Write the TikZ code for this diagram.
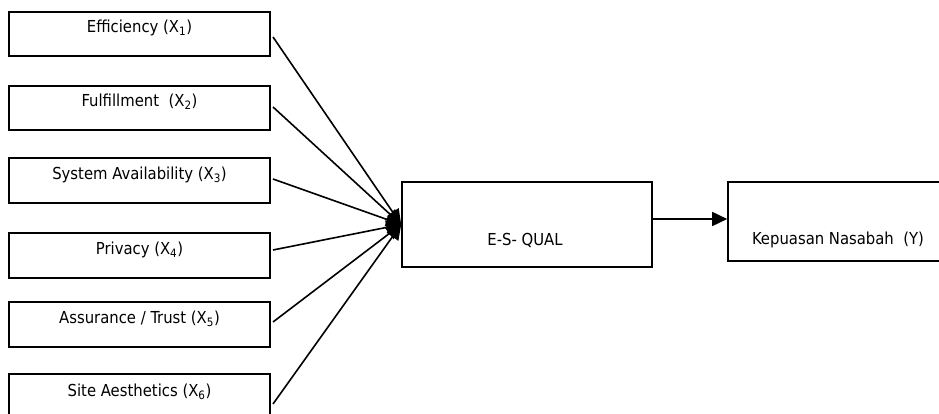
\documentclass[tikz,border=0pt]{standalone}
\usepackage{fontspec}
\setmainfont{DejaVu Sans Condensed}
\usetikzlibrary{arrows.meta}
\begin{document}
\begin{tikzpicture}[x=1pt,y=1pt,
  box/.style={draw=black,line width=1.6pt,rectangle,inner sep=0pt},
  lbl/.style={inner sep=0pt,font=\fontsize{16.5}{19}\selectfont},
  arr/.style={line width=1.6pt,-{Triangle[length=15pt,width=14pt]}}]
\useasboundingbox (0,0) rectangle (939,-414);
\clip (0,0) rectangle (939,-414);
\fill[white] (0,0) rectangle (939,-414);
% input boxes
\node[box,minimum width=261pt,minimum height=44pt] (x1) at (139.5,-34) {};
\node[box,minimum width=261pt,minimum height=44pt] (x2) at (139.5,-108) {};
\node[box,minimum width=261pt,minimum height=45pt] (x3) at (139.5,-180.5) {};
\node[box,minimum width=261pt,minimum height=45pt] (x4) at (139.5,-255.5) {};
\node[box,minimum width=261pt,minimum height=45pt] (x5) at (139.5,-324.5) {};
\node[box,minimum width=261pt,minimum height=45pt] (x6) at (139.5,-396.5) {};
\node[lbl] (t1) at (139.5,-28) {Efficiency (X\textsubscript{1})};
\node[lbl] (t2) at (139.5,-102) {Fulfillment\ \ (X\textsubscript{2})};
\node[lbl] (t3) at (139.5,-175) {System Availability (X\textsubscript{3})};
\node[lbl] (t4) at (139.5,-250) {Privacy (X\textsubscript{4})};
\node[lbl] (t5) at (139.5,-319) {Assurance / Trust (X\textsubscript{5})};
\node[lbl] (t6) at (139.5,-392) {Site Aesthetics (X\textsubscript{6})};
% middle and right boxes
\node[box,minimum width=250pt,minimum height=85pt] (es) at (527,-224.5) {};
\node[lbl] (tes) at (525,-240) {E-S- QUAL};
\node[box,minimum width=222pt,minimum height=79pt] (kep) at (839,-221.5) {};
\node[lbl] (tkep) at (838,-240) {Kepuasan Nasabah\ \ (Y)};
% connectors
\coordinate (s1) at (273,-37);
\coordinate (s2) at (273,-107);
\coordinate (s3) at (273,-179);
\coordinate (s4) at (273,-250);
\coordinate (s5) at (273,-322);
\coordinate (s6) at (273,-404);
\foreach \s in {s1,s2,s3,s4,s5,s6} \draw[arr] (\s) -- (es.west);
\draw[arr] ([yshift=5.5pt]es.east) -- ([yshift=2.5pt]kep.west);
\end{tikzpicture}
\end{document}
